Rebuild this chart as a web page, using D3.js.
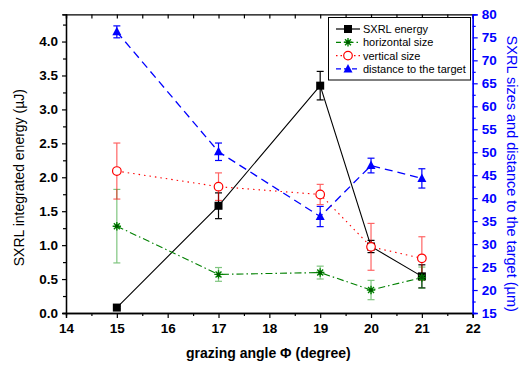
<!DOCTYPE html>
<html><head><meta charset="utf-8">
<script src="https://cdn.jsdelivr.net/npm/d3@7"></script>
<style>body{margin:0;background:#fff}svg{display:block}text{font-family:"Liberation Sans",Arial,sans-serif}</style>
</head><body><svg id="c" width="528" height="365"></svg>
<script>
const angles = [15, 17, 19, 20, 21];
const energy = [0.08, 1.58, 3.35, 0.98, 0.54];
const energyErr = [0.02, 0.19, 0.21, 0.09, 0.17];
const hSize = [33.9, 23.4, 23.8, 20.0, 22.7];
const hSizeErr = [8.0, 1.5, 1.4, 2.1, 2.3];
const vSize = [45.9, 42.5, 40.8, 29.4, 26.9];
const vSizeErr = [6.1, 3.0, 2.2, 5.1, 4.7];
const dist = [76.2, 50.1, 36.0, 47.1, 44.3];
const distErr = [1.3, 1.9, 2.2, 1.6, 2.1];
const xTicks = [14, 15, 16, 17, 18, 19, 20, 21, 22];
const leftTicks = [0, 0.5, 1, 1.5, 2, 2.5, 3, 3.5, 4];
const rightTicks = [15, 20, 25, 30, 35, 40, 45, 50, 55, 60, 65, 70, 75, 80];
const legendLabels = ["SXRL energy", "horizontal size", "vertical size", "distance to the target"];

const L = 66, R = 472.7, T = 14.4, B = 313;
const svg = d3.select("#c");
const x = d3.scaleLinear().domain([14, 22]).range([L, R]);
const yL = d3.scaleLinear().domain([0, 4.4]).range([B, T]);
const yR = d3.scaleLinear().domain([15, 80]).range([B, T]);

const tf = d3.format(".1f");
// axes
const gB = svg.append("g").attr("transform", `translate(0,${B})`)
  .call(d3.axisBottom(x).tickValues(xTicks).tickFormat(d3.format("d")).tickSize(5).tickPadding(5));
const gBm = svg.append("g").attr("transform", `translate(0,${B})`)
  .call(d3.axisBottom(x).tickValues(d3.range(14.5, 22, 1)).tickFormat("").tickSize(3));
const gT = svg.append("g").attr("transform", `translate(0,${T})`)
  .call(d3.axisBottom(x).tickValues(d3.range(14, 22.01, 0.5)).tickFormat("").tickSize(4));
const gL = svg.append("g").attr("transform", `translate(${L},0)`)
  .call(d3.axisLeft(yL).tickValues(leftTicks).tickFormat(tf).tickSize(4).tickPadding(4));
const gLm = svg.append("g").attr("transform", `translate(${L},0)`)
  .call(d3.axisLeft(yL).tickValues(d3.range(0.25, 4.4, 0.5)).tickFormat("").tickSize(3));
const gR = svg.append("g").attr("transform", `translate(${R},0)`)
  .call(d3.axisRight(yR).tickValues(rightTicks).tickFormat(d3.format("d")).tickSize(5).tickPadding(4));
const gRm = svg.append("g").attr("transform", `translate(${R},0)`)
  .call(d3.axisRight(yR).tickValues(d3.range(17.5, 80, 5)).tickFormat("").tickSize(3));

[gB, gBm, gT, gL, gLm].forEach(g => {
  g.selectAll("path").attr("stroke", "#000").attr("stroke-width", 1.3);
  g.selectAll("line").attr("stroke", "#000").attr("stroke-width", 1.2);
  g.selectAll("text").attr("fill", "#000").attr("font-size", 13.5).attr("font-weight", "bold");
});
[gR, gRm].forEach(g => {
  g.selectAll("path").attr("stroke", "#0000ff").attr("stroke-width", 1.3);
  g.selectAll("line").attr("stroke", "#0000ff").attr("stroke-width", 1.2);
  g.selectAll("text").attr("fill", "#0000ff").attr("font-size", 13.5).attr("font-weight", "bold");
});
[gB, gBm, gT, gL, gLm, gR, gRm].forEach(g => g.selectAll("text").style("font-family", '"Liberation Sans",Arial,sans-serif'));

// titles
svg.append("text").attr("x", (L + R) / 2 - 1).attr("y", 358).attr("text-anchor", "middle")
  .attr("font-size", 14).attr("font-weight", "bold").text("grazing angle \u03A6 (degree)");
svg.append("text").attr("transform", `translate(24,${(T + B) / 2 + 14}) rotate(-90)`).attr("text-anchor", "middle")
  .attr("font-size", 14).text("SXRL integrated energy (\u00B5J)");
svg.append("text").attr("transform", `translate(507,${(T + B) / 2 + 10}) rotate(90)`).attr("text-anchor", "middle")
  .attr("font-size", 14.5).attr("fill", "#0000ff").text("SXRL sizes and distance to the target (\u00B5m)");

const series = [
  {vals: energy, err: energyErr, y: yL, color: "#000", errColor: "#000", errOp: 1, dash: null, sym: "square"},
  {vals: hSize, err: hSizeErr, y: yR, color: "#008000", errColor: "#2ca02c", errOp: 0.6, dash: "7,3,1.5,3", sym: "star"},
  {vals: vSize, err: vSizeErr, y: yR, color: "#ff0000", errColor: "#ff0000", errOp: 0.6, dash: "1.5,4", sym: "circle"},
  {vals: dist, err: distErr, y: yR, color: "#0000ff", errColor: "#0000ff", errOp: 1, dash: "8,5", sym: "triangle"}
];

function drawMarker(g, sym, cx, cy, color) {
  if (sym === "square") {
    g.append("rect").attr("x", cx - 4).attr("y", cy - 4).attr("width", 8).attr("height", 8).attr("fill", color);
  } else if (sym === "circle") {
    g.append("circle").attr("cx", cx).attr("cy", cy).attr("r", 4.3).attr("fill", "#fff").attr("stroke", color).attr("stroke-width", 1.2);
  } else if (sym === "triangle") {
    g.append("path").attr("d", `M${cx},${cy - 5}L${cx + 4.5},${cy + 3.5}L${cx - 4.5},${cy + 3.5}Z`).attr("fill", color);
  } else if (sym === "star") {
    const r = 4.2;
    let d = "";
    for (let a = 0; a < 4; a++) {
      const ang = a * Math.PI / 4;
      d += `M${cx - r * Math.cos(ang)},${cy - r * Math.sin(ang)}L${cx + r * Math.cos(ang)},${cy + r * Math.sin(ang)}`;
    }
    g.append("path").attr("d", d).attr("stroke", color).attr("stroke-width", 1.4);
    g.append("circle").attr("cx", cx).attr("cy", cy).attr("r", 1.8).attr("fill", "#005500");
  }
}

const plot = svg.append("g");
series.forEach(s => {
  const pts = angles.map((a, i) => [x(a), s.y(s.vals[i])]);
  const line = plot.append("path").attr("d", d3.line()(pts)).attr("fill", "none")
    .attr("stroke", s.color).attr("stroke-width", s.sym === "triangle" ? 1.3 : 1.1);
  if (s.dash) line.attr("stroke-dasharray", s.dash);
  angles.forEach((a, i) => {
    const cx = x(a), y0 = s.y(s.vals[i] - s.err[i]), y1 = s.y(s.vals[i] + s.err[i]);
    const eg = plot.append("g").attr("stroke", s.errColor).attr("stroke-width", 1.2).attr("opacity", s.errOp);
    eg.append("line").attr("x1", cx).attr("x2", cx).attr("y1", y0).attr("y2", y1);
    eg.append("line").attr("x1", cx - 3.5).attr("x2", cx + 3.5).attr("y1", y0).attr("y2", y0);
    eg.append("line").attr("x1", cx - 3.5).attr("x2", cx + 3.5).attr("y1", y1).attr("y2", y1);
  });
});
series.forEach(s => {
  angles.forEach((a, i) => drawMarker(plot, s.sym, x(a), s.y(s.vals[i]), s.color));
});

// legend
const lg = svg.append("g");
lg.append("rect").attr("x", 328.5).attr("y", 17.5).attr("width", 142).attr("height", 62.5)
  .attr("fill", "#fff").attr("stroke", "#000").attr("stroke-width", 1);
series.forEach((s, i) => {
  const yy = 29 + i * 13.3;
  const ln = lg.append("line").attr("x1", 336).attr("x2", 360).attr("y1", yy).attr("y2", yy)
    .attr("stroke", s.color).attr("stroke-width", 1.2);
  if (s.dash) ln.attr("stroke-dasharray", s.sym === "triangle" ? "5,3" : (s.sym === "star" ? "5,3,1.5,3" : "1.5,3"));
  drawMarker(lg, s.sym, 348, yy, s.color);
  lg.append("text").attr("x", 363).attr("y", yy + 4).attr("font-size", 11).text(legendLabels[i]);
});
</script></body></html>
